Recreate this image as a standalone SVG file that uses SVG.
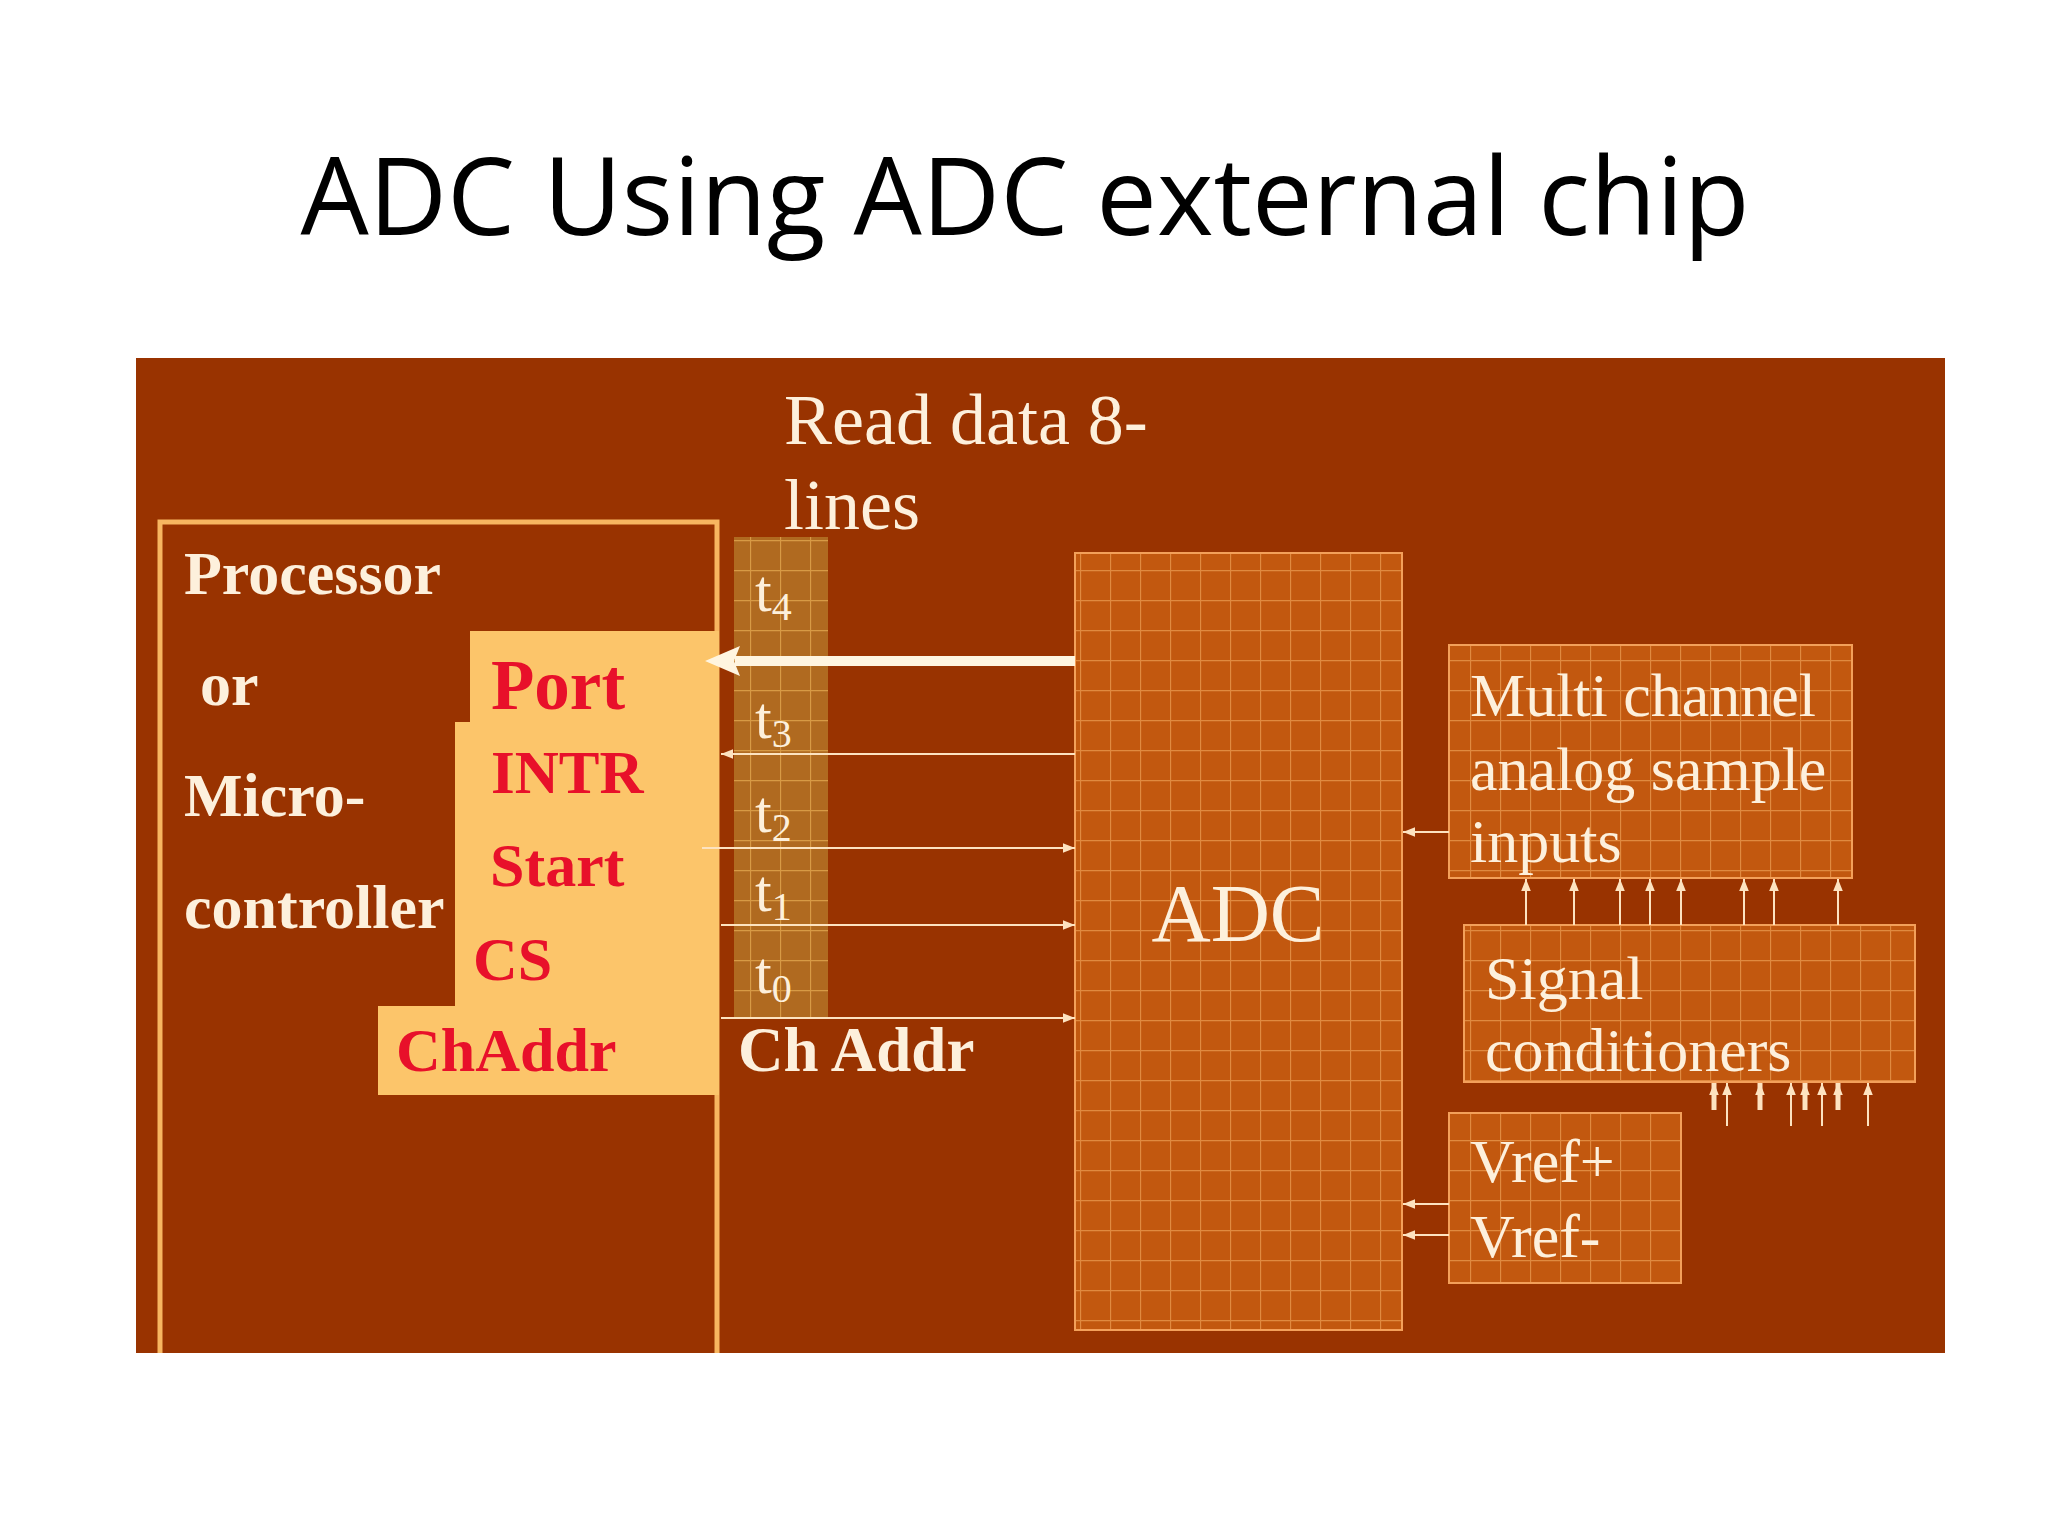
<svg xmlns="http://www.w3.org/2000/svg" width="2048" height="1536" viewBox="0 0 2048 1536">
<defs>
<pattern id="grid" width="30" height="30" patternUnits="userSpaceOnUse">
<rect width="30" height="30" fill="#c2580f"/>
<path d="M0 0.5H30M0.5 0V30" stroke="#e08a40" stroke-width="1.3" fill="none"/>
</pattern>
<pattern id="sgrid" width="30" height="30" patternUnits="userSpaceOnUse">
<rect width="30" height="30" fill="#b06a20"/>
<path d="M0 0.5H30M0.5 0V30" stroke="#d79a45" stroke-width="1.3" fill="none"/>
</pattern>
<marker id="ah" viewBox="0 0 10 10" refX="10" refY="5" markerWidth="14" markerHeight="12" orient="auto" markerUnits="userSpaceOnUse">
<path d="M0 1L10 5L0 9z" fill="#fde3c0"/>
</marker>
<marker id="ahb" viewBox="0 0 10 10" refX="9" refY="5" markerWidth="3" markerHeight="3" orient="auto">
<path d="M0 0L10 5L0 10z" fill="#fff5e0"/>
</marker>
</defs>
<style>
.w{font-family:"Liberation Serif",serif;fill:#fdf0dc}
.wb{font-family:"Liberation Serif",serif;font-weight:bold;fill:#fdf0dc}
.r{font-family:"Liberation Serif",serif;font-weight:bold;fill:#e8102a}
.bx{fill:url(#grid);stroke:#f3a05a;stroke-width:2}
.ln{stroke:#fde3c0;stroke-width:2;fill:none;marker-end:url(#ah)}
.lt{stroke:#fde3c0;stroke-width:5;fill:none;marker-end:url(#ah)}
</style>
<rect width="2048" height="1536" fill="#ffffff"/>
<text x="1025" y="235" text-anchor="middle" font-family="'Open Sans','Liberation Sans',sans-serif" font-size="108" fill="#000">ADC Using ADC external chip</text>
<rect x="136" y="358" width="1809" height="995" fill="#993300"/>

<g id="processor">
<path d="M160 1353V522H717V1353" fill="none" stroke="#f7b660" stroke-width="5"/>
<path d="M470 631H719V1095H378V1006H455V722H470Z" fill="#fcc56a"/>
<text class="wb" x="184" y="594" font-size="62">Processor</text>
<text class="wb" x="200" y="705" font-size="62">or</text>
<text class="wb" x="184" y="816" font-size="62">Micro-</text>
<text class="wb" x="184" y="928" font-size="62">controller</text>
<text class="r" x="491" y="709" font-size="71">Port</text>
<text class="r" x="491" y="793" font-size="61">INTR</text>
<text class="r" x="490" y="886" font-size="62">Start</text>
<text class="r" x="473" y="980" font-size="62">CS</text>
<text class="r" x="396" y="1071" font-size="62">ChAddr</text>
</g>

<g id="lines-strip">
<rect x="734" y="537" width="94" height="482" fill="url(#sgrid)"/>
<text class="w" x="755" y="611" font-size="60">t<tspan font-size="40" dy="9">4</tspan></text>
<text class="w" x="755" y="738" font-size="60">t<tspan font-size="40" dy="9">3</tspan></text>
<text class="w" x="755" y="832" font-size="60">t<tspan font-size="40" dy="9">2</tspan></text>
<text class="w" x="755" y="911" font-size="60">t<tspan font-size="40" dy="9">1</tspan></text>
<text class="w" x="755" y="993" font-size="60">t<tspan font-size="40" dy="9">0</tspan></text>
<text class="w" x="784" y="444" font-size="72">Read data 8-</text>
<text class="w" x="784" y="529" font-size="72">lines</text>
<text class="wb" x="738" y="1071" font-size="63">Ch Addr</text>
</g>

<g id="adc">
<rect class="bx" x="1075" y="553" width="327" height="777"/>
<text class="w" x="1238" y="941" font-size="82" text-anchor="middle">ADC</text>
</g>
<g id="multi">
<rect class="bx" x="1449" y="645" width="403" height="233"/>
<text class="w" x="1470" y="716" font-size="62">Multi channel</text>
<text class="w" x="1470" y="790" font-size="62">analog sample</text>
<text class="w" x="1470" y="862" font-size="62">inputs</text>
</g>
<g id="signal">
<rect class="bx" x="1464" y="925" width="451" height="157"/>
<text class="w" x="1485" y="999" font-size="62">Signal</text>
<text class="w" x="1485" y="1071" font-size="62">conditioners</text>
</g>
<g id="vref">
<rect class="bx" x="1449" y="1113" width="232" height="170"/>
<text class="w" x="1470" y="1182" font-size="62">Vref+</text>
<text class="w" x="1470" y="1257" font-size="62">Vref-</text>
</g>

<g id="connectors">
<line x1="1075" y1="661" x2="735" y2="661" stroke="#fff5e0" stroke-width="10"/>
<path d="M705 661L740 646L734 661L740 676Z" fill="#fff5e0"/>
<line class="ln" x1="1075" y1="754" x2="721" y2="754"/>
<line class="ln" x1="702" y1="848" x2="1075" y2="848"/>
<line class="ln" x1="721" y1="925" x2="1075" y2="925"/>
<line class="ln" x1="721" y1="1018" x2="1075" y2="1018"/>
<line class="ln" x1="1449" y1="832" x2="1403" y2="832"/>
<line class="ln" x1="1449" y1="1204" x2="1403" y2="1204"/>
<line class="ln" x1="1449" y1="1235" x2="1403" y2="1235"/>
<line class="ln" x1="1526" y1="925" x2="1526" y2="879"/>
<line class="ln" x1="1574" y1="925" x2="1574" y2="879"/>
<line class="ln" x1="1620" y1="925" x2="1620" y2="879"/>
<line class="ln" x1="1650" y1="925" x2="1650" y2="879"/>
<line class="ln" x1="1681" y1="925" x2="1681" y2="879"/>
<line class="ln" x1="1744" y1="925" x2="1744" y2="879"/>
<line class="ln" x1="1774" y1="925" x2="1774" y2="879"/>
<line class="ln" x1="1838" y1="925" x2="1838" y2="879"/>
<line class="lt" x1="1714" y1="1110" x2="1714" y2="1083"/>
<line class="ln" x1="1727" y1="1126" x2="1727" y2="1083"/>
<line class="lt" x1="1760" y1="1110" x2="1760" y2="1083"/>
<line class="ln" x1="1791" y1="1126" x2="1791" y2="1083"/>
<line class="lt" x1="1805" y1="1110" x2="1805" y2="1083"/>
<line class="ln" x1="1822" y1="1126" x2="1822" y2="1083"/>
<line class="lt" x1="1838" y1="1110" x2="1838" y2="1083"/>
<line class="ln" x1="1868" y1="1126" x2="1868" y2="1083"/>
</g>
</svg>
